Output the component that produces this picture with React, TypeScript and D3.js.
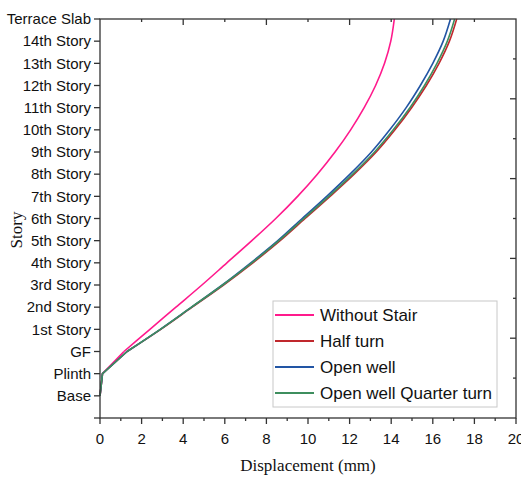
import React from "react";
import * as d3 from "d3";

// story levels, bottom to top (index = level)
const levels = [
  "Base", "Plinth", "GF", "1st Story", "2nd Story", "3rd Story", "4th Story",
  "5th Story", "6th Story", "7th Story", "8th Story", "9th Story", "10th Story",
  "11th Story", "12th Story", "13th Story", "14th Story", "Terrace Slab",
];

const seriesNames = ["Without Stair", "Half turn", "Open well", "Open well Quarter turn"];
const seriesColors = ["#ff1a8c", "#c0282d", "#2255a4", "#3e8e5e"];

// displacement (mm) at each level
const withoutStair = [0, 0.12, 1.15, 2.4, 3.65, 4.9, 6.1, 7.3, 8.45, 9.5, 10.45, 11.3, 12.05, 12.7, 13.25, 13.68, 13.98, 14.15];
const halfTurn = [0, 0.12, 1.3, 2.92, 4.43, 5.94, 7.35, 8.66, 9.86, 11.06, 12.22, 13.28, 14.18, 14.98, 15.69, 16.3, 16.8, 17.15];
const openWell = [0, 0.12, 1.3, 2.9, 4.4, 5.88, 7.25, 8.55, 9.72, 10.9, 12.02, 13.05, 13.93, 14.72, 15.4, 16.0, 16.5, 16.85];
const openWellQuarter = [0, 0.12, 1.3, 2.9, 4.4, 5.9, 7.3, 8.6, 9.8, 11.0, 12.15, 13.2, 14.1, 14.9, 15.6, 16.2, 16.7, 17.05];

const xTicks = d3.range(0, 21, 1);

const W = 521;
const H = 479;
const m = { left: 100, right: 5, top: 19, bottom: 61 };

export default function App() {
  const x = d3.scaleLinear().domain([0, 20]).range([m.left, W - m.right]);
  const y = d3.scaleLinear().domain([-1, 17]).range([H - m.bottom, m.top]);
  // right frame has its own even ticks
  const yRight = d3.scaleLinear().domain([0, 10]).range([H - m.bottom, m.top]);

  const data = [withoutStair, halfTurn, openWell, openWellQuarter];
  // straight segments up to GF, smooth above
  const lower = d3
    .line<[number, number]>()
    .x((d) => x(d[0]))
    .y((d) => y(d[1]));
  const upper = d3
    .line<[number, number]>()
    .x((d) => x(d[0]))
    .y((d) => y(d[1]))
    .curve(d3.curveMonotoneY);

  const x0 = x(0), x1 = x(20), yb = y(-1), yt = y(17);
  const font = "'Liberation Sans', Arial, sans-serif";
  const serif = "'Liberation Serif', 'Times New Roman', serif";

  const legendX = 273, legendY = 301, rowH = 26;

  return (
    <svg width={W} height={H} style={{ position: "absolute", left: 0, top: 0, background: "#fff" }}>
      {/* curves */}
      {data.map((s, k) => {
        const pts = s.map((v, i) => [v, i] as [number, number]);
        return (
          <g key={k} fill="none" stroke={seriesColors[k]} strokeWidth={1.6}>
            <path d={lower(pts.slice(0, 3)) || ""} />
            <path d={upper(pts.slice(2)) || ""} />
          </g>
        );
      })}

      {/* frame */}
      <rect x={x0} y={yt} width={x1 - x0} height={yb - yt} fill="none" stroke="#333" strokeWidth={1.3} />

      {/* left axis */}
      {d3.range(-1, 18).map((l) => (
        <g key={l}>
          <line x1={x0 - 6} x2={x0} y1={y(l)} y2={y(l)} stroke="#333" strokeWidth={1.3} />
          {l >= 0 && (
            <text x={x0 - 9} y={y(l)} dy="0.35em" textAnchor="end" fontFamily={font} fontSize={15} fill="#111">
              {levels[l]}
            </text>
          )}
        </g>
      ))}

      {/* bottom axis */}
      {xTicks.map((t) => (
        <g key={t}>
          <line x1={x(t)} x2={x(t)} y1={yb} y2={yb + (t % 2 === 0 ? 6 : 3)} stroke="#333" strokeWidth={1.3} />
          {t % 2 === 0 && (
            <text x={x(t)} y={yb + 15} dy="0.71em" textAnchor="middle" fontFamily={font} fontSize={15} fill="#111">
              {t}
            </text>
          )}
        </g>
      ))}

      {/* top axis, inward */}
      {d3.range(2, 20, 2).map((t) => (
        <line key={t} x1={x(t)} x2={x(t)} y1={yt} y2={yt + (t % 4 === 0 ? 6 : 3)} stroke="#333" strokeWidth={1.3} />
      ))}

      {/* right axis, inward */}
      {d3.range(1, 10).map((t) => (
        <line key={t} x1={x1} x2={x1 - (t % 2 === 0 ? 6 : 3)} y1={yRight(t)} y2={yRight(t)} stroke="#333" strokeWidth={1.3} />
      ))}

      {/* titles */}
      <text x={x(10)} y={471} textAnchor="middle" fontFamily={serif} fontSize={17} fill="#111">
        Displacement (mm)
      </text>
      <text transform={`translate(22,${230}) rotate(-90)`} textAnchor="middle" fontFamily={serif} fontSize={17} fill="#111">
        Story
      </text>

      {/* legend */}
      <rect x={legendX} y={legendY} width={224} height={106} fill="#fff" stroke="#c8c8c8" strokeWidth={1} />
      {seriesNames.map((n, k) => {
        const ry = legendY + 14 + k * rowH;
        return (
          <g key={n}>
            <line x1={legendX + 2} x2={legendX + 41} y1={ry} y2={ry} stroke={seriesColors[k]} strokeWidth={1.8} />
            <text x={legendX + 47} y={ry} dy="0.35em" fontFamily={font} fontSize={17} fill="#111">
              {n}
            </text>
          </g>
        );
      })}
    </svg>
  );
}
